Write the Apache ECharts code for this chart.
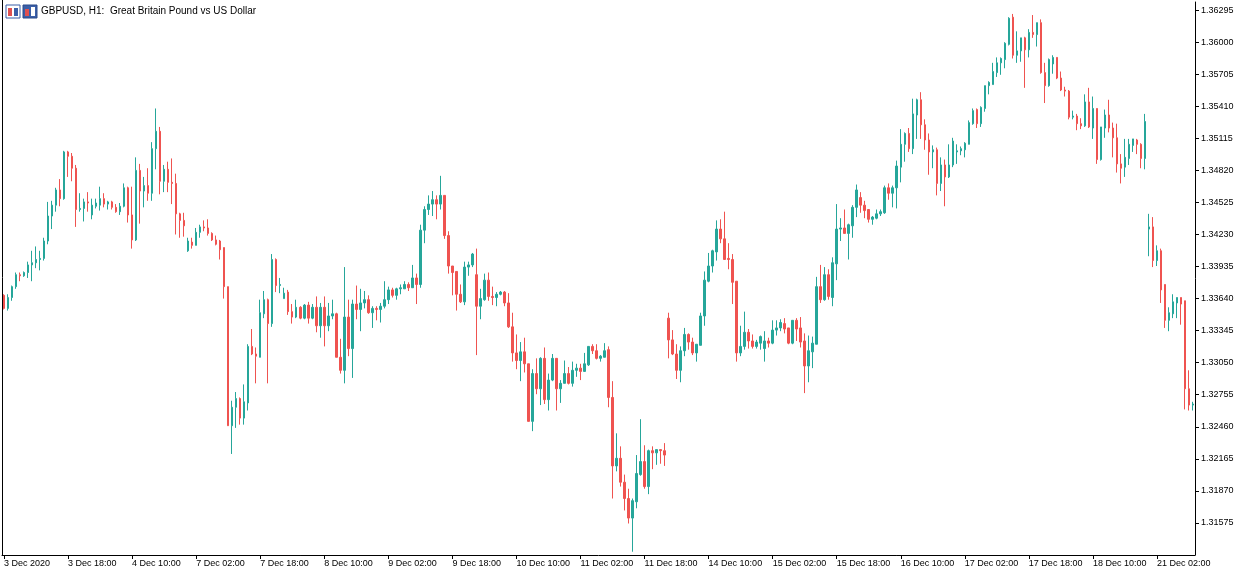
<!DOCTYPE html>
<html><head><meta charset="utf-8">
<script src="https://cdn.jsdelivr.net/npm/echarts@6/dist/echarts.min.js"></script>
<style>html,body{margin:0;padding:0;background:#fff}#c{width:1242px;height:575px}</style>
</head><body><div id="c"></div>
<script>
const title = 'GBPUSD, H1:  Great Britain Pound vs US Dollar';
const firstLabel = '3 Dec 2020';
const yTicks = [1.31575,1.31870,1.32165,1.32460,1.32755,1.33050,1.33345,1.33640,1.33935,1.34230,1.34525,1.34820,1.35115,1.35410,1.35705,1.36000,1.36295];
const opens = [
1.3367,1.3355,1.3365,1.3375,1.3386,1.3385,1.3388,1.3395,1.3397,1.3400,1.3401,1.3417,1.3440,1.3450,1.3464,1.3456,1.3499,1.3495,1.3484,1.3446,1.3447,1.3453,1.3441,1.3449,1.3450,
1.3456,1.3451,1.3453,1.3448,1.3444,1.3449,1.3466,1.3441,1.3418,1.3482,1.3463,1.3468,1.3461,1.3502,1.3518,1.3472,1.3483,1.3471,1.3470,1.3442,1.3436,1.3408,1.3416,1.3413,1.3425,
1.3430,1.3429,1.3424,1.3418,1.3417,1.3411,1.3375,1.3247,1.3264,1.3272,1.3254,1.3268,1.3320,1.3313,1.3310,1.3350,1.3363,1.3341,1.3400,1.3376,1.3364,1.3370,1.3352,1.3347,1.3356,
1.3346,1.3358,1.3346,1.3356,1.3339,1.3356,1.3339,1.3348,1.3350,1.3310,1.3298,1.3347,1.3318,1.3359,1.3354,1.3360,1.3363,1.3351,1.3355,1.3354,1.3357,1.3363,1.3372,1.3367,1.3373,
1.3373,1.3377,1.3374,1.3383,1.3377,1.3427,1.3446,1.3451,1.3455,1.3451,1.3459,1.3422,1.3394,1.3389,1.3368,1.3361,1.3393,1.3395,1.3386,1.3357,1.3363,1.3381,1.3366,1.3365,1.3368,
1.3370,1.3360,1.3338,1.3314,1.3307,1.3315,1.3304,1.3251,1.3295,1.3281,1.3309,1.3271,1.3289,1.3309,1.3281,1.3286,1.3295,1.3286,1.3298,1.3300,1.3297,1.3303,1.3320,1.3316,1.3309,
1.3310,1.3317,1.3273,1.3210,1.3217,1.3195,1.3180,1.3162,1.3177,1.3202,1.3214,1.3191,1.3224,1.3222,1.3225,1.3224,1.3346,1.3326,1.3313,1.3298,1.3316,1.3331,1.3324,1.3314,1.3321,
1.3348,1.3380,1.3394,1.3407,1.3428,1.3419,1.3401,1.3400,1.3380,1.3314,1.3320,1.3333,1.3325,1.3320,1.3323,1.3318,1.3325,1.3323,1.3335,1.3337,1.3341,1.3337,1.3323,1.3344,1.3337,
1.3325,1.3302,1.3315,1.3322,1.3375,1.3363,1.3386,1.3365,1.3396,1.3428,1.3429,1.3424,1.3431,1.3448,1.3457,1.3450,1.3446,1.3437,1.3438,1.3442,1.3443,1.3466,1.3461,1.3466,1.3485,
1.3506,1.3516,1.3502,1.3533,1.3547,1.3524,1.3510,1.3499,1.3501,1.3470,1.3487,1.3476,1.3487,1.3499,1.3500,1.3501,1.3506,1.3525,1.3538,1.3525,1.3539,1.3560,1.3561,1.3572,1.3581,
1.3584,1.3598,1.3623,1.3588,1.3592,1.3604,1.3593,1.3609,1.3607,1.3618,1.3572,1.3560,1.3580,1.3586,1.3567,1.3556,1.3555,1.3531,1.3532,1.3525,1.3523,1.3545,1.3521,1.3539,1.3492,
1.3521,1.3533,1.3521,1.3512,1.3488,1.3485,1.3493,1.3505,1.3510,1.3506,1.3493,1.3428,1.3430,1.3399,1.3408,1.3377,1.3344,1.3350,1.3360,1.3365,1.3362,1.3281,1.3266];
const closes = [
1.3355,1.3365,1.3375,1.3386,1.3385,1.3388,1.3395,1.3397,1.3400,1.3401,1.3417,1.3440,1.3450,1.3464,1.3456,1.3499,1.3495,1.3484,1.3446,1.3447,1.3453,1.3452,1.3450,1.3452,1.3456,
1.3451,1.3453,1.3448,1.3444,1.3449,1.3466,1.3441,1.3418,1.3482,1.3463,1.3468,1.3461,1.3502,1.3518,1.3472,1.3483,1.3471,1.3470,1.3442,1.3436,1.3431,1.3417,1.3413,1.3425,1.3430,
1.3429,1.3424,1.3418,1.3414,1.3409,1.3375,1.3247,1.3264,1.3272,1.3254,1.3269,1.3320,1.3313,1.3311,1.3351,1.3363,1.3341,1.3400,1.3376,1.3377,1.3369,1.3352,1.3347,1.3356,1.3346,
1.3358,1.3346,1.3356,1.3339,1.3356,1.3339,1.3348,1.3350,1.3310,1.3298,1.3347,1.3318,1.3359,1.3354,1.3360,1.3363,1.3351,1.3355,1.3354,1.3357,1.3363,1.3372,1.3367,1.3373,1.3374,
1.3377,1.3374,1.3383,1.3377,1.3427,1.3446,1.3451,1.3455,1.3451,1.3459,1.3422,1.3394,1.3388,1.3368,1.3361,1.3393,1.3395,1.3405,1.3357,1.3364,1.3381,1.3366,1.3365,1.3368,1.3370,
1.3360,1.3338,1.3314,1.3307,1.3315,1.3304,1.3251,1.3295,1.3281,1.3309,1.3271,1.3289,1.3309,1.3281,1.3286,1.3295,1.3286,1.3298,1.3300,1.3297,1.3304,1.3320,1.3316,1.3309,1.3311,
1.3316,1.3273,1.3210,1.3217,1.3195,1.3180,1.3162,1.3178,1.3203,1.3214,1.3191,1.3224,1.3222,1.3225,1.3224,1.3220,1.3326,1.3313,1.3298,1.3316,1.3331,1.3324,1.3314,1.3322,1.3348,
1.3381,1.3394,1.3408,1.3428,1.3419,1.3400,1.3400,1.3379,1.3314,1.3320,1.3333,1.3325,1.3320,1.3324,1.3329,1.3325,1.3323,1.3335,1.3337,1.3342,1.3336,1.3323,1.3344,1.3336,1.3324,
1.3302,1.3316,1.3323,1.3375,1.3363,1.3386,1.3366,1.3397,1.3428,1.3429,1.3424,1.3432,1.3448,1.3464,1.3450,1.3445,1.3437,1.3439,1.3442,1.3444,1.3466,1.3461,1.3466,1.3486,1.3506,
1.3516,1.3502,1.3534,1.3547,1.3524,1.3510,1.3499,1.3501,1.3470,1.3487,1.3476,1.3487,1.3509,1.3500,1.3502,1.3507,1.3526,1.3537,1.3525,1.3540,1.3560,1.3563,1.3573,1.3581,1.3585,
1.3599,1.3622,1.3588,1.3592,1.3604,1.3593,1.3609,1.3607,1.3618,1.3572,1.3560,1.3584,1.3586,1.3567,1.3556,1.3555,1.3531,1.3532,1.3525,1.3523,1.3545,1.3522,1.3539,1.3492,1.3522,
1.3533,1.3521,1.3512,1.3488,1.3484,1.3494,1.3506,1.3511,1.3506,1.3493,1.3527,1.3430,1.3399,1.3408,1.3372,1.3344,1.3351,1.3361,1.3365,1.3359,1.3281,1.3266,1.3267];
const highs = [
1.3368,1.3368,1.3376,1.3388,1.3388,1.3389,1.3398,1.3408,1.3412,1.3408,1.3420,1.3453,1.3454,1.3466,1.3474,1.3500,1.3500,1.3498,1.3487,1.3461,1.3456,1.3462,1.3456,1.3456,1.3467,
1.3461,1.3454,1.3454,1.3451,1.3452,1.3470,1.3467,1.3467,1.3494,1.3488,1.3476,1.3484,1.3508,1.3539,1.3522,1.3487,1.3490,1.3493,1.3479,1.3443,1.3443,1.3420,1.3420,1.3429,1.3432,
1.3436,1.3437,1.3425,1.3422,1.3418,1.3411,1.3375,1.3270,1.3278,1.3273,1.3285,1.3322,1.3336,1.3319,1.3363,1.3371,1.3364,1.3405,1.3401,1.3383,1.3374,1.3372,1.3359,1.3363,1.3357,
1.3359,1.3361,1.3359,1.3366,1.3360,1.3366,1.3360,1.3363,1.3351,1.3327,1.3393,1.3363,1.3363,1.3376,1.3373,1.3371,1.3367,1.3357,1.3357,1.3360,1.3380,1.3375,1.3374,1.3374,1.3377,
1.3380,1.3379,1.3395,1.3387,1.3432,1.3449,1.3459,1.3463,1.3459,1.3477,1.3459,1.3426,1.3394,1.3389,1.3377,1.3398,1.3398,1.3406,1.3410,1.3373,1.3387,1.3388,1.3375,1.3370,1.3371,
1.3371,1.3369,1.3351,1.3331,1.3324,1.3328,1.3304,1.3299,1.3309,1.3310,1.3319,1.3295,1.3313,1.3309,1.3289,1.3307,1.3301,1.3306,1.3304,1.3304,1.3314,1.3320,1.3322,1.3322,1.3312,
1.3323,1.3320,1.3288,1.3240,1.3228,1.3202,1.3189,1.3180,1.3220,1.3253,1.3229,1.3225,1.3228,1.3225,1.3225,1.3231,1.3351,1.3335,1.3322,1.3320,1.3337,1.3332,1.3328,1.3322,1.3351,
1.3389,1.3406,1.3409,1.3436,1.3437,1.3444,1.3415,1.3405,1.3380,1.3339,1.3352,1.3336,1.3331,1.3326,1.3330,1.3334,1.3328,1.3344,1.3344,1.3345,1.3346,1.3337,1.3344,1.3346,1.3347,
1.3332,1.3330,1.3329,1.3384,1.3395,1.3393,1.3391,1.3402,1.3451,1.3438,1.3446,1.3433,1.3450,1.3469,1.3462,1.3454,1.3446,1.3440,1.3446,1.3446,1.3468,1.3470,1.3468,1.3491,1.3520,
1.3517,1.3521,1.3548,1.3548,1.3554,1.3529,1.3516,1.3505,1.3503,1.3494,1.3492,1.3506,1.3512,1.3506,1.3504,1.3508,1.3528,1.3539,1.3539,1.3541,1.3560,1.3564,1.3581,1.3586,1.3586,
1.3600,1.3623,1.3626,1.3610,1.3604,1.3605,1.3612,1.3625,1.3618,1.3621,1.3581,1.3585,1.3588,1.3586,1.3573,1.3559,1.3556,1.3537,1.3534,1.3530,1.3552,1.3558,1.3550,1.3539,1.3522,
1.3538,1.3547,1.3526,1.3525,1.3497,1.3511,1.3511,1.3511,1.3511,1.3507,1.3534,1.3442,1.3439,1.3413,1.3410,1.3377,1.3356,1.3368,1.3365,1.3365,1.3362,1.3298,1.3269];
const lows = [
1.3354,1.3353,1.3362,1.3373,1.3380,1.3384,1.3383,1.3380,1.3392,1.3390,1.3399,1.3414,1.3428,1.3444,1.3449,1.3455,1.3476,1.3472,1.3430,1.3444,1.3435,1.3444,1.3437,1.3447,1.3445,
1.3448,1.3446,1.3446,1.3443,1.3441,1.3448,1.3434,1.3410,1.3417,1.3433,1.3448,1.3454,1.3454,1.3483,1.3460,1.3462,1.3462,1.3451,1.3423,1.3420,1.3421,1.3407,1.3410,1.3413,1.3420,
1.3426,1.3422,1.3417,1.3413,1.3400,1.3364,1.3247,1.3221,1.3245,1.3248,1.3248,1.3261,1.3312,1.3286,1.3310,1.3346,1.3286,1.3338,1.3370,1.3369,1.3364,1.3349,1.3341,1.3346,1.3345,
1.3345,1.3341,1.3345,1.3333,1.3328,1.3320,1.3334,1.3345,1.3310,1.3295,1.3286,1.3311,1.3291,1.3345,1.3334,1.3355,1.3350,1.3337,1.3344,1.3342,1.3355,1.3359,1.3365,1.3363,1.3368,
1.3373,1.3371,1.3374,1.3359,1.3374,1.3415,1.3441,1.3440,1.3437,1.3446,1.3419,1.3387,1.3367,1.3353,1.3360,1.3358,1.3385,1.3393,1.3312,1.3345,1.3362,1.3362,1.3358,1.3357,1.3367,
1.3357,1.3337,1.3306,1.3299,1.3288,1.3296,1.3251,1.3242,1.3276,1.3266,1.3267,1.3261,1.3288,1.3261,1.3268,1.3286,1.3285,1.3283,1.3292,1.3289,1.3297,1.3302,1.3313,1.3308,1.3306,
1.3310,1.3264,1.3180,1.3205,1.3191,1.3169,1.3157,1.3131,1.3171,1.3201,1.3189,1.3184,1.3207,1.3211,1.3212,1.3210,1.3309,1.3312,1.3290,1.3287,1.3311,1.3317,1.3312,1.3306,1.3321,
1.3339,1.3379,1.3388,1.3399,1.3415,1.3400,1.3391,1.3359,1.3306,1.3311,1.3317,1.3318,1.3318,1.3318,1.3317,1.3306,1.3319,1.3322,1.3330,1.3334,1.3332,1.3322,1.3322,1.3325,1.3319,
1.3277,1.3287,1.3300,1.3322,1.3360,1.3362,1.3363,1.3357,1.3381,1.3417,1.3424,1.3400,1.3420,1.3439,1.3443,1.3438,1.3434,1.3432,1.3437,1.3440,1.3442,1.3455,1.3448,1.3447,1.3471,
1.3490,1.3499,1.3497,1.3511,1.3511,1.3501,1.3478,1.3484,1.3459,1.3463,1.3449,1.3475,1.3485,1.3488,1.3496,1.3494,1.3506,1.3524,1.3521,1.3522,1.3536,1.3552,1.3561,1.3568,1.3570,
1.3576,1.3597,1.3585,1.3581,1.3582,1.3558,1.3586,1.3604,1.3596,1.3571,1.3544,1.3559,1.3571,1.3566,1.3555,1.3550,1.3529,1.3529,1.3519,1.3520,1.3522,1.3521,1.3511,1.3488,1.3491,
1.3512,1.3517,1.3494,1.3480,1.3470,1.3476,1.3487,1.3499,1.3497,1.3484,1.3483,1.3403,1.3393,1.3394,1.3360,1.3337,1.3334,1.3346,1.3346,1.3340,1.3262,1.3261,1.3261];

// hourly trading-time categories from 3 Dec 2020 02:00, weekends skipped
const months = ['Jan','Feb','Mar','Apr','May','Jun','Jul','Aug','Sep','Oct','Nov','Dec'];
const categories = [];
{
  let t = Date.UTC(2020, 11, 3, 2);
  while (categories.length < opens.length) {
    const d = new Date(t);
    const wd = d.getUTCDay();
    if (wd !== 0 && wd !== 6) {
      categories.push(d.getUTCDate() + ' ' + months[d.getUTCMonth()] + ' ' + String(d.getUTCHours()).padStart(2,'0') + ':00');
    }
    t += 3600000;
  }
}
const ohlc = opens.map((o, i) => [o, closes[i], lows[i], highs[i]]);

const chart = echarts.init(document.getElementById('c'), null, {renderer: 'canvas'});
const F = 'Liberation Sans, Arial, sans-serif';
chart.setOption({
  animation: false,
  backgroundColor: '#fff',
  grid: {left: 2, right: 47, top: 2, bottom: 20},
  xAxis: {
    type: 'category', data: categories, boundaryGap: true,
    axisLine: {show: true, lineStyle: {color: '#000', width: 1}},
    axisTick: {show: true, interval: 15, alignWithLabel: true, length: 4, lineStyle: {color: '#000'}},
    axisLabel: {interval: 15, align: 'left', margin: 4, color: '#000', fontSize: 9, fontFamily: F,
      formatter: (v, i) => i === 0 ? firstLabel : v},
    splitLine: {show: false}
  },
  yAxis: {
    type: 'value', position: 'right', min: 1.3128, max: 1.3637, scale: true,
    axisLine: {show: true, lineStyle: {color: '#000', width: 1}},
    axisTick: {show: true, length: 4, lineStyle: {color: '#000'}, customValues: yTicks},
    axisLabel: {color: '#000', fontSize: 9, fontFamily: F, margin: 6, customValues: yTicks,
      formatter: v => v.toFixed(5)},
    splitLine: {show: false}
  },
  graphic: [
    {type: 'line', shape: {x1: 2.5, y1: 0, x2: 2.5, y2: 555}, style: {stroke: '#000', lineWidth: 1}},
    {type: 'rect', shape: {x: 6, y: 5, width: 14, height: 13}, style: {fill: '#fff', stroke: '#3b5fa8', lineWidth: 1}},
    {type: 'rect', shape: {x: 8, y: 8, width: 4, height: 8}, style: {fill: '#e05050'}},
    {type: 'rect', shape: {x: 14, y: 8, width: 4, height: 8}, style: {fill: '#3b5fa8'}},
    {type: 'rect', shape: {x: 23, y: 5, width: 14, height: 13}, style: {fill: '#3b5fa8', stroke: '#2a4a8a', lineWidth: 1}},
    {type: 'rect', shape: {x: 25, y: 9, width: 4, height: 7}, style: {fill: '#e05050'}},
    {type: 'rect', shape: {x: 31, y: 7, width: 4, height: 9}, style: {fill: '#fff'}},
    {type: 'text', x: 41, y: 6, style: {text: title, fill: '#000', font: '10px ' + F}}
  ],
  series: [{
    type: 'candlestick', data: ohlc, barWidth: 2,
    itemStyle: {color: '#26a69a', color0: '#ef5350', borderColor: '#26a69a', borderColor0: '#ef5350', borderWidth: 1}
  }]
});
</script></body></html>
